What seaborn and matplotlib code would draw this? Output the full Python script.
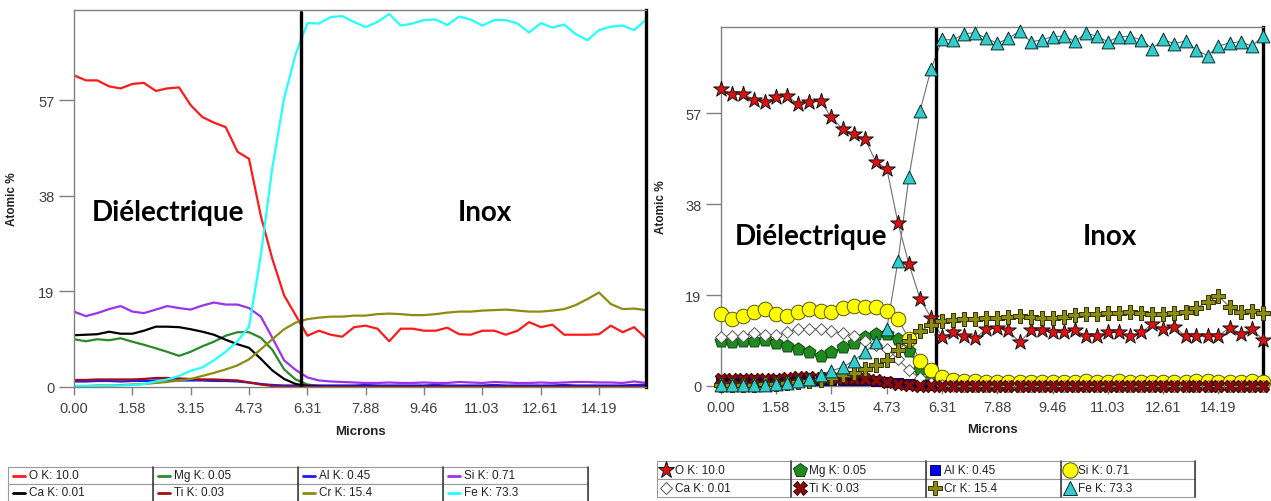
import seaborn as sns
import matplotlib.pyplot as plt
from matplotlib.lines import Line2D
from matplotlib.patches import Rectangle

# line scan positions (microns) and atomic % per element
microns = [0.00, 0.32, 0.63, 0.95, 1.26, 1.58, 1.89, 2.21, 2.52, 2.84,
           3.15, 3.47, 3.78, 4.10, 4.42, 4.73, 5.05, 5.36, 5.68, 5.99,
           6.31, 6.62, 6.94, 7.25, 7.57, 7.88, 8.20, 8.52, 8.83, 9.15,
           9.46, 9.78, 10.09, 10.41, 10.72, 11.04, 11.36, 11.67, 11.99, 12.30,
           12.62, 12.93, 13.25, 13.56, 13.88, 14.19, 14.51, 14.83, 15.14, 15.46]

o_k = [62.0, 61.0, 61.0, 59.8, 59.4, 60.3, 60.5, 58.9, 59.4, 59.6,
       56.1, 53.7, 52.6, 51.7, 46.8, 45.4, 34.0, 25.5, 18.2, 14.3,
       10.2, 11.2, 10.4, 10.0, 11.9, 12.2, 11.6, 9.1, 11.6, 11.6,
       11.2, 11.2, 11.8, 10.5, 10.4, 11.2, 11.2, 10.4, 11.2, 12.9,
       11.9, 12.4, 10.4, 10.4, 10.4, 10.5, 12.2, 10.9, 11.9, 9.7]
mg_k = [9.5, 9.1, 9.5, 9.3, 9.7, 9.0, 8.4, 7.7, 7.0, 6.2,
        7.0, 8.1, 9.0, 10.2, 10.9, 10.9, 9.8, 7.4, 3.5, 1.5,
        0.5, 0.2, 0.1, 0.1, 0.05, 0.05, 0.1, 0.05, 0.05, 0.05,
        0.05, 0.1, 0.05, 0.05, 0.05, 0.05, 0.1, 0.05, 0.05, 0.05,
        0.05, 0.05, 0.1, 0.05, 0.05, 0.05, 0.05, 0.1, 0.05, 0.05]
al_k = [1.1, 1.1, 1.2, 1.2, 1.1, 1.2, 1.2, 1.3, 1.3, 1.3,
        1.3, 1.3, 1.2, 1.2, 1.1, 0.9, 0.6, 0.4, 0.3, 0.3,
        0.3, 0.3, 0.3, 0.3, 0.3, 0.4, 0.3, 0.3, 0.3, 0.3,
        0.3, 0.4, 0.3, 0.3, 0.3, 0.3, 0.4, 0.3, 0.3, 0.3,
        0.3, 0.3, 0.4, 0.3, 0.3, 0.3, 0.3, 0.3, 0.4, 0.45]
si_k = [15.0, 14.1, 14.7, 15.5, 16.1, 15.0, 14.7, 15.4, 16.1, 15.7,
        15.4, 16.2, 16.8, 16.4, 16.4, 15.7, 14.0, 9.8, 5.3, 3.4,
        1.9, 1.3, 1.1, 1.0, 0.9, 0.8, 0.8, 0.9, 0.8, 0.8,
        0.9, 0.8, 0.8, 1.0, 0.9, 0.8, 1.0, 0.9, 0.8, 0.8,
        0.9, 0.8, 0.9, 1.0, 1.0, 0.9, 0.9, 0.8, 1.1, 0.8]
ca_k = [10.3, 10.4, 10.5, 11.0, 10.6, 10.6, 11.2, 12.0, 12.0, 11.9,
        11.5, 11.0, 10.4, 9.4, 8.5, 7.8, 5.6, 3.3, 1.6, 0.6,
        0.2, 0.1, 0.05, 0.05, 0.05, 0.05, 0.05, 0.05, 0.05, 0.05,
        0.05, 0.05, 0.05, 0.05, 0.05, 0.05, 0.05, 0.05, 0.05, 0.05,
        0.05, 0.05, 0.05, 0.05, 0.05, 0.05, 0.05, 0.05, 0.05, 0.05]
ti_k = [1.4, 1.4, 1.5, 1.5, 1.5, 1.5, 1.6, 1.8, 1.8, 1.7,
        1.6, 1.5, 1.5, 1.4, 1.3, 0.9, 0.5, 0.2, 0.1, 0.05,
        0.05, 0.03, 0.03, 0.05, 0.03, 0.03, 0.03, 0.05, 0.03, 0.03,
        0.03, 0.03, 0.05, 0.03, 0.03, 0.03, 0.03, 0.03, 0.05, 0.03,
        0.03, 0.03, 0.03, 0.05, 0.03, 0.03, 0.03, 0.03, 0.03, 0.03]
cr_k = [0.2, 0.2, 0.3, 0.3, 0.4, 0.5, 0.6, 0.8, 1.0, 1.3,
        1.6, 2.2, 2.8, 3.5, 4.3, 5.5, 7.5, 9.5, 11.5, 12.8,
        13.5, 13.8, 14.0, 14.0, 14.2, 14.2, 14.5, 14.6, 14.5, 14.3,
        14.3, 14.5, 14.8, 15.0, 15.0, 15.2, 15.3, 15.4, 15.2, 15.0,
        15.0, 15.2, 15.5, 16.3, 17.5, 18.8, 16.5, 15.5, 15.6, 15.3]
fe_k = [0.2, 0.2, 0.2, 0.3, 0.3, 0.4, 0.6, 1.1, 1.5, 2.2,
        3.2, 3.9, 5.3, 7.0, 9.1, 12.0, 26.2, 43.6, 57.5, 66.2,
        72.4, 72.3, 73.6, 73.8, 72.6, 71.6, 72.6, 74.2, 71.9, 72.3,
        73.0, 73.1, 72.0, 73.7, 73.1, 71.9, 73.0, 73.0, 72.3, 70.5,
        72.4, 71.5, 72.1, 70.2, 69.0, 71.0, 71.7, 71.9, 71.0, 73.1]

elements = ['O', 'Mg', 'Al', 'Si', 'Ca', 'Ti', 'Cr', 'Fe']
series = [o_k, mg_k, al_k, si_k, ca_k, ti_k, cr_k, fe_k]
legend_labels = ['O K: 10.0', 'Mg K: 0.05', 'Al K: 0.45', 'Si K: 0.71',
                 'Ca K: 0.01', 'Ti K: 0.03', 'Cr K: 15.4', 'Fe K: 73.3']
tick_pos = [0, 1.58, 3.15, 4.73, 6.31, 7.88, 9.46, 11.03, 12.61, 14.19]
tick_lab = ['0.00', '1.58', '3.15', '4.73', '6.31', '7.88', '9.46', '11.03', '12.61', '14.19']
interface = 6.13

line_colors = ['#ff1a1a', '#2a8a2a', '#1a1aff', '#9933ee', '#000000', '#a01010', '#8c8c10', '#22ffff']
# marker styles for the right panel: (marker, size, face, edge)
marker_styles = [('*', 140, '#dd1111', '#111111'),
                 ('p', 95, '#1f8a1f', '#114411'),
                 ('s', 55, '#0000ee', '#000066'),
                 ('o', 110, '#ffff00', '#555500'),
                 ('D', 36, '#ffffff', '#555555'),
                 ('X', 80, '#8b0a0a', '#3a0000'),
                 ('P', 100, '#8c8c10', '#333300'),
                 ('^', 85, '#33cccc', '#0b2b2b')]
draw_order = [2, 1, 4, 3, 6, 5, 7, 0]

sns.set_style("white")
plt.rcParams['font.family'] = ['Liberation Sans', 'DejaVu Sans']

W, H = 1271, 502
fig = plt.figure(figsize=(W / 100, H / 100), dpi=100)
ax1 = fig.add_axes([74 / W, 1 - 388 / H, 572 / W, 377 / H])
ax2 = fig.add_axes([721 / W, 1 - 387 / H, 542 / W, 359 / H])

for name, vals, col in zip(elements, series, line_colors):
    sns.lineplot(x=microns, y=vals, color=col, linewidth=1.6, ax=ax1)

for j in draw_order:
    sns.lineplot(x=microns, y=series[j], color='#707070', linewidth=0.8, ax=ax2, zorder=2)
for j in draw_order:
    m, s, fc, ec = marker_styles[j]
    sns.scatterplot(x=microns, y=series[j], marker=m, s=s, color=fc, edgecolor=ec,
                    linewidth=0.7, ax=ax2, zorder=3 + j, clip_on=False)


def style_axes(ax, label_x, label_y):
    ax.set_xlim(0, 15.46)
    ax.set_ylim(0, 75)
    ax.set_xticks(tick_pos)
    ax.set_xticklabels(tick_lab)
    ax.set_yticks([0, 19, 38, 57])
    ax.tick_params(axis='x', length=6, width=1, color='#808080', labelcolor='#404040',
                   labelsize=10.5, pad=4, bottom=True)
    ax.tick_params(axis='y', length=11, width=1, color='#808080', labelcolor='#404040',
                   labelsize=10.5, pad=3, left=True)
    for side in ['left', 'bottom', 'top']:
        ax.spines[side].set_color('#808080')
        ax.spines[side].set_linewidth(1)
    ax.spines['right'].set_color('black')
    ax.spines['right'].set_linewidth(2.4)
    ax.set_xlabel('Microns', fontsize=9.5, fontweight='bold', color='#222222')
    ax.set_ylabel('Atomic %', fontsize=8.5, fontweight='bold', color='#222222')
    ax.xaxis.set_label_coords(0.5, label_x)
    ax.xaxis.label.set_va('center')
    ax.yaxis.set_label_coords(label_y, 0.5)


style_axes(ax1, -0.117, -0.098)
style_axes(ax2, -0.12, -0.0996)

ax1.axvline(interface, color='black', linewidth=2.4, ymax=0.995)
ax2.axvline(interface, color='black', linewidth=2.4, ymin=0.02)

txt = dict(fontsize=20, fontweight='bold', family=['Lato', 'DejaVu Sans'],
           ha='center', va='center', color='black')
ax1.text(2.54, 34.8, 'Diélectrique', **txt)
ax1.text(11.1, 34.8, 'Inox', **txt)
ax2.text(2.57, 31.3, 'Diélectrique', **txt)
ax2.text(11.1, 31.3, 'Inox', **txt)


def legend_table(x0, top, cw, ch, with_markers):
    for k in range(8):
        r, c = divmod(k, 4)
        x = x0 + c * cw
        y = top + r * ch
        fig.add_artist(Rectangle((x / W, 1 - (y + ch) / H), cw / W, ch / H,
                                 transform=fig.transFigure, facecolor='white',
                                 edgecolor='#9a9a9a', linewidth=0.8))
        fig.add_artist(Line2D([(x + cw) / W] * 2, [1 - y / H, 1 - (y + ch) / H],
                              transform=fig.transFigure, color='#444444', linewidth=1.2))
        yc = 1 - (y + ch / 2) / H
        if with_markers:
            m, s, fc, ec = marker_styles[k]
            fig.add_artist(Line2D([(x + 9) / W], [yc], transform=fig.transFigure,
                                  marker=m, markersize=s ** 0.5 * 1.05, markerfacecolor=fc,
                                  markeredgecolor=ec, markeredgewidth=0.7, linestyle='none'))
            tx = x + 18
        else:
            fig.add_artist(Line2D([(x + 5) / W, (x + 17) / W], [yc, yc],
                                  transform=fig.transFigure, color=line_colors[k], linewidth=2))
            tx = x + 21
        fig.text(tx / W, yc, legend_labels[k], fontsize=8.5, color='#222222',
                 ha='left', va='center')


legend_table(8, 468, 145, 17, False)
legend_table(657, 462, 134.5, 18, True)

fig.savefig('out.png', dpi=100)
